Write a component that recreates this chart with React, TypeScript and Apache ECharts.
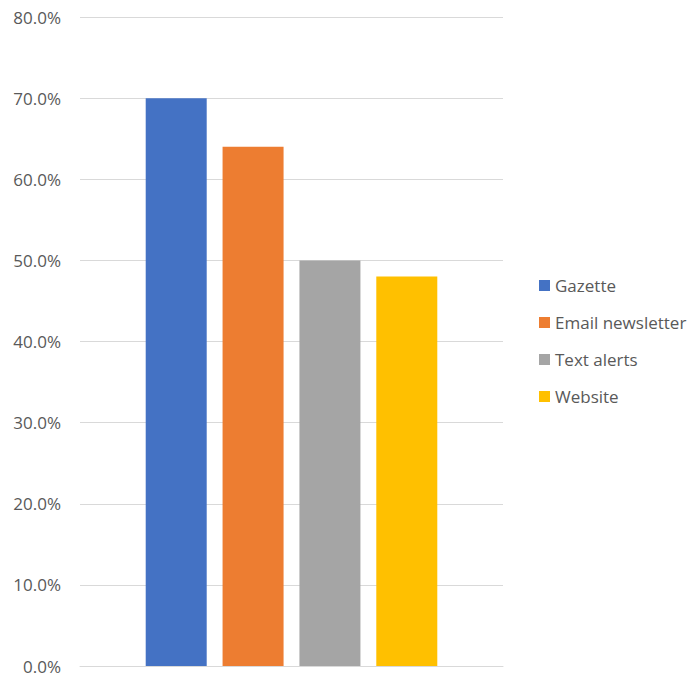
import React, { useEffect, useRef } from "react";
import * as echarts from "echarts";

const categories = [""];
const seriesNames = ["Gazette", "Email newsletter", "Text alerts", "Website"];
const seriesValues = [70, 64, 50, 48];
const seriesColors = ["#4472C4", "#ED7D31", "#A5A5A5", "#FFC000"];

export default function App() {
  const ref = useRef<HTMLDivElement>(null);
  useEffect(() => {
    if (!ref.current) return;
    const chart = echarts.init(ref.current, null, { renderer: "svg" });
    const font = "'Open Sans', 'Liberation Sans', sans-serif";
    chart.setOption({
      animation: false,
      textStyle: { fontFamily: font },
      grid: { left: 80, right: 191, top: 17, bottom: 10, containLabel: false },
      legend: {
        orient: "vertical",
        left: 534,
        top: 272,
        itemWidth: 11,
        itemHeight: 11,
        itemGap: 20,
        icon: "rect",
        textStyle: { fontSize: 17, color: "#595959", lineHeight: 17, fontFamily: font },
        data: seriesNames,
      },
      xAxis: {
        type: "category",
        data: categories,
        axisLine: { show: true, lineStyle: { color: "#D9D9D9" } },
        axisTick: { show: false },
        axisLabel: { show: false },
      },
      yAxis: {
        type: "value",
        min: 0,
        max: 80,
        interval: 10,
        axisLine: { show: false },
        axisTick: { show: false },
        splitLine: { lineStyle: { color: "#D9D9D9", width: 1 } },
        axisLabel: {
          formatter: (v: number) => v.toFixed(1) + "%",
          fontSize: 17,
          color: "#595959",
          margin: 19,
          fontFamily: font,
        },
      },
      series: seriesNames.map((name, i) => ({
        name,
        type: "bar",
        data: [seriesValues[i]],
        barWidth: 61,
        barGap: "26%",
        itemStyle: { color: seriesColors[i] },
      })),
    });
    return () => chart.dispose();
  }, []);
  return <div ref={ref} style={{ width: 694, height: 676, position: "absolute", left: 0, top: 0 }} />;
}
